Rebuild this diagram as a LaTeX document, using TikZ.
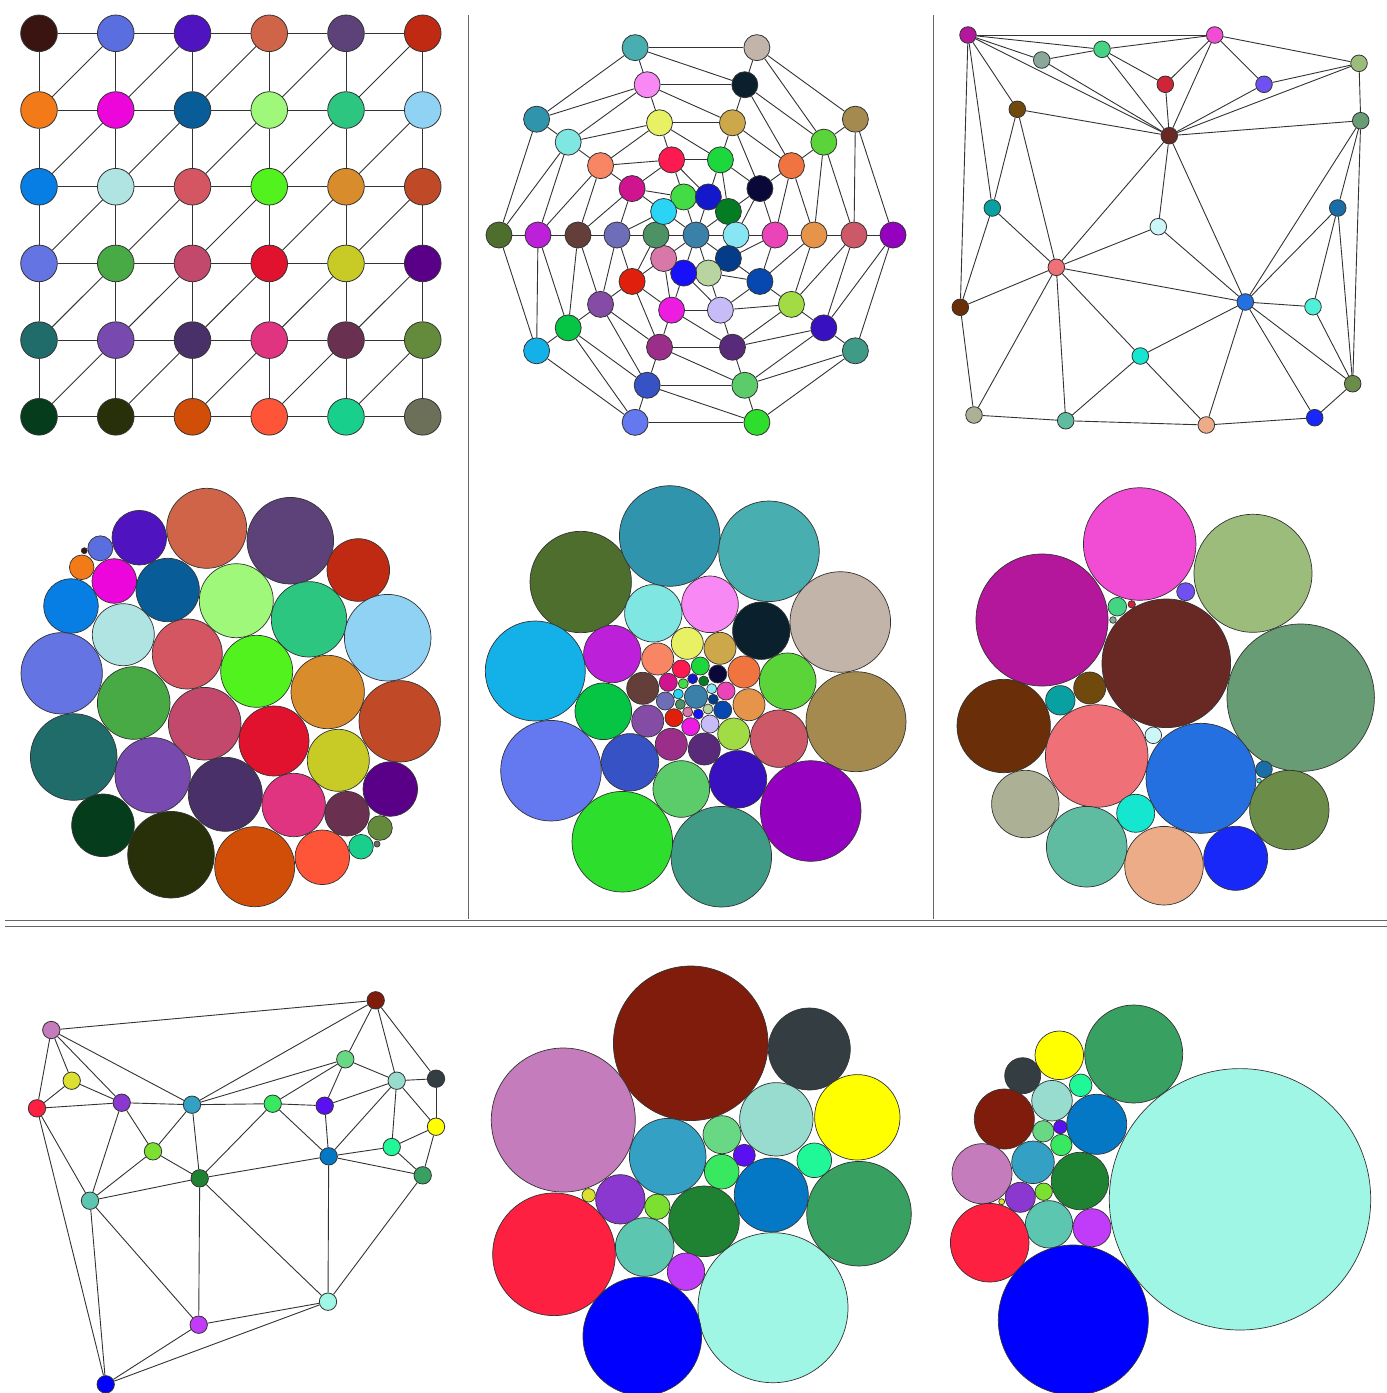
\documentclass[tikz,border=0pt]{standalone}
\usetikzlibrary{backgrounds}
\newcommand\defc[2]{\definecolor{#1}{HTML}{#2}}
% grid colours
\defc{g00}{3A1410}\defc{g01}{5B6EE0}\defc{g02}{5013C0}\defc{g03}{D06448}\defc{g04}{5C4278}\defc{g05}{C02A12}
\defc{g10}{F27A18}\defc{g11}{EC06DC}\defc{g12}{085C98}\defc{g13}{A0F87A}\defc{g14}{2CC680}\defc{g15}{90D2F4}
\defc{g20}{067EE4}\defc{g21}{B0E4E2}\defc{g22}{D45662}\defc{g23}{52F21E}\defc{g24}{D88C2C}\defc{g25}{C04A28}
\defc{g30}{6474E2}\defc{g31}{48AA44}\defc{g32}{C2486C}\defc{g33}{E0122E}\defc{g34}{C8CA26}\defc{g35}{5A0088}
\defc{g40}{206C6A}\defc{g41}{784AB0}\defc{g42}{4A3068}\defc{g43}{E03480}\defc{g44}{6A3050}\defc{g45}{648A3C}
\defc{g50}{043C1C}\defc{g51}{28300A}\defc{g52}{D04E08}\defc{g53}{FE5438}\defc{g54}{18D08C}\defc{g55}{6C7058}
% ring colours
\defc{pA0}{9402C0}\defc{pA1}{3F9A86}\defc{pA2}{2EDE2C}\defc{pA3}{6478F0}\defc{pA4}{14B0E8}\defc{pA5}{4E6E2E}\defc{pA6}{3094AC}\defc{pA7}{48AEB0}\defc{pA8}{C2B4A8}\defc{pA9}{A48A4E}
\defc{pB0}{CC5868}\defc{pB1}{3810C0}\defc{pB2}{5CCC6A}\defc{pB3}{3652C4}\defc{pB4}{06C444}\defc{pB5}{BC20D8}\defc{pB6}{80E6E2}\defc{pB7}{F888F4}\defc{pB8}{0A202C}\defc{pB9}{5AD438}
\defc{pC0}{E6944A}\defc{pC1}{A2DC44}\defc{pC2}{5A2A7A}\defc{pC3}{9A2E88}\defc{pC4}{844CA4}\defc{pC5}{643E38}\defc{pC6}{F88664}\defc{pC7}{E8F064}\defc{pC8}{CCA84A}\defc{pC9}{F07440}
\defc{pD0}{EA44B8}\defc{pD1}{0648B0}\defc{pD2}{C8BCF8}\defc{pD3}{EC1CE0}\defc{pD4}{E0200C}\defc{pD5}{6E6EB8}\defc{pD6}{D01490}\defc{pD7}{FC1A50}\defc{pD8}{1CD83C}\defc{pD9}{0A0838}
\defc{pE0}{88E6F4}\defc{pE1}{043C8A}\defc{pE2}{B8D4A0}\defc{pE3}{1810F8}\defc{pE4}{D878A8}\defc{pE5}{4C9264}\defc{pE6}{2AD4F4}\defc{pE7}{44DC44}\defc{pE8}{1418CC}\defc{pE9}{047C24}
\defc{pZ}{3A80A8}
% triangulation colours
\defc{qA}{B4169C}\defc{qB}{8AA89A}\defc{qC}{44D484}\defc{qD}{F04CD4}\defc{qE}{D02438}\defc{qF}{7050F0}\defc{qG}{9CBC7C}\defc{qH}{704A0C}
\defc{qI}{682824}\defc{qJ}{689C74}\defc{qK}{08A0A0}\defc{qL}{CCF6F8}\defc{qM}{1A6EA8}\defc{qN}{F07078}\defc{qO}{6A2E08}\defc{qP}{2470E0}
\defc{qQ}{50F0D8}\defc{qR}{14E6D0}\defc{qS}{6C8C4A}\defc{qT}{ACB094}\defc{qU}{60BCA0}\defc{qV}{ECAC88}\defc{qW}{1828F8}
% bottom graph colours
\defc{wa}{801C0C}\defc{wb}{C47CBC}\defc{wc}{DCE030}\defc{wd}{FE2040}\defc{we}{8A38D0}\defc{wf}{34A0C4}\defc{wg}{38E860}
\defc{wh}{5A10F0}\defc{wi}{68D884}\defc{wj}{98DCD0}\defc{wk}{343E42}\defc{wl}{FFFF00}\defc{wm}{20F898}\defc{wn}{38A060}
\defc{wo}{0478C4}\defc{wp}{1E8232}\defc{wq}{7CE030}\defc{wr}{5CC6B0}\defc{ws}{C03CF8}\defc{wt}{A0F6E4}\defc{wu}{0000FF}
\newcommand\packc[4]{\filldraw[pcirc,fill=#4] (#1,#2) circle (#3pt);}
\begin{document}
\begin{tikzpicture}[x=1pt,y=-1pt,
  edge/.style={draw=black!80,line width=0.9pt},
  vnode/.style={circle,draw=black!80,line width=0.8pt,inner sep=0pt},
  gnode/.style={vnode,minimum size=36.6pt},
  rnode/.style={vnode,minimum size=26pt},
  tnode/.style={vnode,minimum size=16.6pt},
  bnode/.style={vnode,minimum size=17.4pt},
  pcirc/.style={draw=black!80,line width=0.7pt},
  sep/.style={draw=black!60,line width=1pt}]
\useasboundingbox (0,0) rectangle (1387,1393);
\begin{scope}[on background layer]
\fill[white] (0,0) rectangle (1387,1393);
\end{scope}
% separators
\draw[sep] (468,15) -- (468,919);
\draw[sep] (933,15) -- (933,919);
\draw[sep] (5,920) -- (1387,920);
\draw[sep] (5,926) -- (1387,926);

% ---------- panel 1: grid ----------
\foreach \ro in {0,...,5}{\foreach \co in {0,...,5}{
  \node[gnode,fill=g\ro\co] (g\ro\co) at (39+76.75*\co,33.3+76.7*\ro) {};}}
\begin{scope}[on background layer]
\foreach \ro in {0,...,5}{\foreach \co [evaluate=\co as \cn using int(\co+1)] in {0,...,4}{
  \draw[edge] (g\ro\co) -- (g\ro\cn);}}
\foreach \ro [evaluate=\ro as \rn using int(\ro+1)] in {0,...,4}{\foreach \co in {0,...,5}{
  \draw[edge] (g\ro\co) -- (g\rn\co);}}
\foreach \ro [evaluate=\ro as \rn using int(\ro+1)] in {0,...,4}{\foreach \co [evaluate=\co as \cn using int(\co+1)] in {0,...,4}{
  \draw[edge] (g\rn\co) -- (g\ro\cn);}}
\end{scope}

% ---------- panel 2: rings ----------
\begin{scope}[shift={(696,235)}]
\foreach \k in {0,...,9}{
  \node[rnode,fill=pA\k] (pA\k) at (\k*36:197) {};
  \node[rnode,fill=pB\k] (pB\k) at (\k*36:158) {};
  \node[rnode,fill=pC\k] (pC\k) at (\k*36:118) {};
  \node[rnode,fill=pD\k] (pD\k) at (\k*36:79) {};}
\foreach \k in {7,8,9,0,1,2,3,4,5,6}{
  \node[rnode,fill=pE\k] (pE\k) at (\k*36:40) {};}
\node[rnode,fill=pZ] (pZ) at (0,0) {};
\end{scope}
\begin{scope}[on background layer]
\foreach \k [evaluate=\k as \kn using {int(mod(\k+1,10))}] in {0,...,9}{
  \foreach \X/\Y in {A/B,B/C,C/D,D/E}{
    \draw[edge] (p\X\k) -- (p\X\kn);
    \draw[edge] (p\X\k) -- (p\Y\k);
    \draw[edge] (p\X\k) -- (p\Y\kn);}
  \draw[edge] (pE\k) -- (pE\kn);
  \draw[edge] (pE\k) -- (pZ);}
\end{scope}

% ---------- panel 3: triangulation ----------
\foreach \n/\x/\y in {A/968/35,B/1041.7/60,C/1102/49.3,D/1214.7/35,E/1165.3/84.3,F/1264/84.3,G/1359/63.3,
  H/1017.3/109.3,I/1169.3/135.7,J/1360.7/120.7,K/992.3/208,L/1158.3/226.7,M/1337.7/208,N/1056.3/267.3,
  O/960.3/307.3,P/1245.3/302,Q/1313/306.7,R/1140.3/356,S/1352.7/383.7,T/974/415,U/1065.7/420.7,
  V/1206.3/425,W/1314.7/417.7}{
  \node[tnode,fill=q\n] (q\n) at (\x,\y) {};}
\begin{scope}[on background layer]
\foreach \s/\t in {A/D,A/C,A/B,A/I,A/H,A/K,A/O,B/C,B/I,C/D,C/E,C/I,D/E,D/I,D/F,D/G,E/I,F/G,F/I,G/I,G/J,
  H/I,H/K,H/N,I/J,I/L,I/N,I/P,J/M,J/P,J/S,K/O,K/N,L/N,L/P,M/P,M/Q,M/S,N/O,N/T,N/U,N/R,N/P,O/T,
  P/Q,P/R,P/V,P/W,P/S,Q/S,R/U,R/V,S/W,T/U,U/V,V/W}{
  \draw[edge] (q\s) -- (q\t);}
\end{scope}

% ---------- panel 4: packing of grid ----------
\packc{84.3}{550.7}{3}{g00}\packc{100.3}{548.3}{12.5}{g01}\packc{139.3}{537.7}{27.3}{g02}
\packc{206.7}{528.3}{40}{g03}\packc{290.3}{540.7}{43.3}{g04}\packc{358.3}{570}{31.3}{g05}
\packc{81.7}{567.3}{12.3}{g10}\packc{114.3}{581}{22.3}{g11}\packc{167.7}{590}{31.7}{g12}
\packc{236.3}{600.7}{37}{g13}\packc{309}{619.3}{37.7}{g14}\packc{387.7}{637.7}{43.3}{g15}
\packc{71}{606}{27.3}{g20}\packc{123.3}{634.7}{31}{g21}\packc{187.3}{654}{35}{g22}
\packc{256.7}{671.3}{36}{g23}\packc{327.7}{692}{36.7}{g24}\packc{399.7}{721.3}{40.7}{g25}
\packc{61.7}{673.3}{40.7}{g30}\packc{133.7}{703}{36.3}{g31}\packc{204.7}{723.7}{36.3}{g32}
\packc{274}{741}{35}{g33}\packc{338.3}{760.3}{31}{g34}\packc{390.3}{789}{27.3}{g35}
\packc{73.7}{757}{43.3}{g40}\packc{152.7}{775.3}{37.7}{g41}\packc{225.3}{794.3}{37}{g42}
\packc{293.7}{805}{31.7}{g43}\packc{347}{813.7}{22.3}{g44}\packc{380}{828}{12.3}{g45}
\packc{103}{825.3}{31.3}{g50}\packc{171}{854.7}{43.3}{g51}\packc{254.7}{866.7}{40}{g52}
\packc{322.3}{857.3}{27.3}{g53}\packc{361}{846.7}{12.3}{g54}\packc{377}{844}{3}{g55}

% ---------- panel 5: packing of rings ----------
\packc{580.7}{582}{50.7}{pA5}\packc{669.7}{536}{50.3}{pA6}\packc{769}{551.3}{50.3}{pA7}
\packc{840.3}{622}{50.3}{pA8}\packc{856}{721.7}{50}{pA9}\packc{810.7}{811}{50.3}{pA0}
\packc{721.3}{856.7}{50.3}{pA1}\packc{622.3}{841.7}{50.3}{pA2}\packc{551}{770.7}{50.3}{pA3}
\packc{535.3}{671}{50}{pA4}
\packc{653.3}{613.3}{28.7}{pB6}\packc{710}{604.3}{28.3}{pB7}\packc{761.3}{630.7}{28.7}{pB8}
\packc{787.7}{681.3}{28.3}{pB9}\packc{779}{738.7}{28.7}{pB0}\packc{738}{779.3}{28.7}{pB1}
\packc{681.3}{789}{28.3}{pB2}\packc{630}{762.3}{28.7}{pB3}\packc{603.3}{711.3}{28.3}{pB4}
\packc{612.3}{654}{28.7}{pB5}
\packc{657.7}{659}{16}{pC6}\packc{687.3}{643.3}{16}{pC7}\packc{720}{648.3}{16}{pC8}
\packc{744}{672}{16}{pC9}\packc{749}{704.7}{16}{pC0}\packc{733.7}{734}{16}{pC1}
\packc{704.3}{749}{16}{pC2}\packc{671.3}{744.3}{16}{pC3}\packc{647.7}{721}{16}{pC4}
\packc{642.7}{688.3}{16}{pC5}
\packc{681.3}{669}{9}{pD7}\packc{700.3}{666}{9}{pD8}\packc{717.7}{674}{9}{pD9}
\packc{726}{691}{9}{pD0}\packc{722.7}{710}{9}{pD1}\packc{710}{724}{9}{pD2}
\packc{690.7}{726.7}{9}{pD3}\packc{674}{717.7}{9}{pD4}\packc{665.3}{701}{9}{pD5}
\packc{668.3}{682.3}{9}{pD6}
\packc{683.3}{683.7}{5}{pE7}\packc{692.7}{678.7}{5}{pE8}\packc{703.7}{681}{5}{pE9}
\packc{711.7}{688.7}{5}{pE0}\packc{713.3}{699.3}{5}{pE1}\packc{708}{709}{5}{pE2}
\packc{698.3}{714}{5}{pE3}\packc{687.7}{712}{5}{pE4}\packc{680.3}{704.3}{5}{pE5}
\packc{678.3}{694}{5}{pE6}
\packc{696}{696.7}{11.7}{pZ}

% ---------- panel 6: packing of triangulation ----------
\packc{1042}{620}{66}{qA}\packc{1139.7}{544}{56.3}{qD}\packc{1253}{573.3}{59}{qG}
\packc{1166.3}{663.3}{64.3}{qI}\packc{1300.7}{697.7}{73.7}{qJ}\packc{1185.7}{591.7}{9}{qF}
\packc{1117.3}{606.7}{9.3}{qC}\packc{1131.7}{604.3}{3.7}{qE}\packc{1113}{620}{3.3}{qB}
\packc{1089.7}{688}{16}{qH}\packc{1060.3}{700.3}{14.7}{qK}\packc{1003.7}{726}{46.7}{qO}
\packc{1096.7}{756}{51.3}{qN}\packc{1153.3}{735.3}{8.3}{qL}\packc{1201}{778.3}{55}{qP}
\packc{1264}{769.3}{8.3}{qM}\packc{1259}{780.7}{2.3}{qQ}\packc{1289.3}{810}{39.7}{qS}
\packc{1025.3}{804}{33.7}{qT}\packc{1086.7}{846.7}{40.3}{qU}\packc{1135.7}{813.3}{19}{qR}
\packc{1164}{865.7}{39.3}{qV}\packc{1235.7}{858.3}{32}{qW}

% ---------- panel 7: bottom graph ----------
\foreach \n/\x/\y in {a/375.7/1000.3,b/51.3/1030,c/71.7/1080.7,d/37/1108.3,e/121.7/1102.7,f/192/1104.7,
  g/272.7/1103.7,h/324.7/1105.7,i/345.3/1059.3,j/396.7/1080.7,k/436/1078.7,l/436/1126.7,m/391.7/1147,
  n/422.7/1175.3,o/328.7/1156.3,p/199.7/1178.3,q/153/1151.3,r/90/1200.7,s/198.7/1324.7,t/328/1301.7,
  u/105.7/1384.3}{
  \node[bnode,fill=w\n] (w\n) at (\x,\y) {};}
\begin{scope}[on background layer]
\foreach \s/\t in {b/a,b/c,b/d,b/e,b/f,a/f,a/i,a/j,a/k,c/d,c/e,d/e,d/r,d/u,e/f,e/q,e/r,f/g,f/i,f/q,f/p,
  g/h,g/i,g/p,g/o,h/i,h/j,h/o,i/j,j/k,j/l,j/m,j/o,k/l,l/m,l/n,m/n,m/o,n/o,n/t,o/p,o/t,p/q,p/r,p/s,p/t,
  q/r,r/s,r/u,s/t,s/u,t/u}{
  \draw[edge] (w\s) -- (w\t);}
\end{scope}

% ---------- panel 8: packing ----------
\packc{690.7}{1043.3}{77.3}{wa}\packc{563.3}{1120}{72}{wb}\packc{809.3}{1049}{41}{wk}
\packc{857.3}{1117.3}{42.7}{wl}\packc{776.3}{1119.3}{36.7}{wj}\packc{722}{1134.7}{19}{wi}
\packc{744.3}{1155.3}{11}{wh}\packc{721.7}{1171.7}{17.3}{wg}\packc{667.7}{1156.7}{38.3}{wf}
\packc{814.3}{1160.3}{17.3}{wm}\packc{771.3}{1195}{37}{wo}\packc{859}{1213.7}{52.3}{wn}
\packc{620.3}{1199.3}{24.7}{we}\packc{588.7}{1195.3}{6.7}{wc}\packc{657.3}{1206.7}{12.7}{wq}
\packc{704}{1221.3}{35.3}{wp}\packc{554}{1254.3}{61.3}{wd}\packc{644.7}{1247}{29.3}{wr}
\packc{686}{1271.7}{18.7}{ws}\packc{773}{1307.7}{75}{wt}\packc{642.3}{1336.3}{59.3}{wu}

% ---------- panel 9: packing ----------
\packc{1133.7}{1054}{49}{wn}\packc{1059.3}{1055.3}{24.3}{wl}\packc{1022.7}{1075.7}{18}{wk}
\packc{1080.7}{1085.3}{11.3}{wm}\packc{1052}{1100.7}{20.3}{wj}\packc{1004.3}{1119}{30}{wa}
\packc{1096.7}{1124.3}{30}{wo}\packc{1043.3}{1131.3}{10.7}{wi}\packc{1060.3}{1127}{6.7}{wh}
\packc{1061.3}{1145}{10.7}{wg}\packc{1033}{1162.3}{21.3}{wf}\packc{982}{1173.7}{30}{wb}
\packc{1080}{1181}{28.7}{wp}\packc{1043.7}{1191.7}{8.7}{wq}\packc{1020.3}{1197.3}{15}{we}
\packc{1001.7}{1201.7}{3}{wc}\packc{1049}{1224.3}{23.7}{wr}\packc{1092}{1227.7}{19}{ws}
\packc{989.7}{1242.7}{39.3}{wd}\packc{1240}{1199.3}{130.7}{wt}\packc{1073.3}{1320}{75}{wu}
\end{tikzpicture}
\end{document}
